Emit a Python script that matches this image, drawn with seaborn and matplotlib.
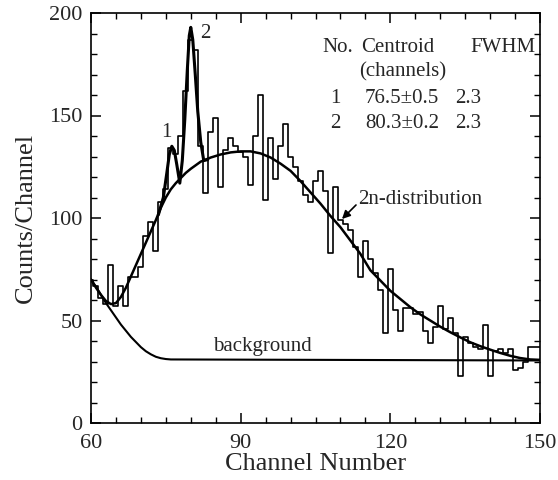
import numpy as np
import pandas as pd
import matplotlib
matplotlib.use("Agg")
import matplotlib.pyplot as plt
import seaborn as sns
from matplotlib.ticker import MultipleLocator

# ---- data ----
channels = list(range(60, 151))
counts = [70, 67, 61, 58, 77, 57, 67, 57, 71, 71,
          76, 91, 98, 84, 108, 114, 134, 131, 140, 162,
          187, 182, 135, 112, 142, 149, 115, 133, 139, 135,
          132, 130, 116, 140, 160, 109, 139, 119, 135, 146,
          130, 125, 118, 111, 108, 118, 123, 113, 83, 115,
          99, 97, 94, 86, 71, 89, 80, 73, 65, 44,
          75, 55, 45, 56, 56, 53, 54, 45, 39, 47,
          57, 46, 51, 44, 23, 42, 39, 37, 36, 48,
          23, 35, 36, 34, 36, 26, 27, 30, 37, 37, 37]

smooth_ch = [60, 61, 62, 63, 64, 65, 66, 67, 68, 69, 70, 71, 72, 73, 74, 75, 76, 77,
             78, 79, 80, 82, 84, 86, 88, 90, 92, 94, 96, 98, 100, 102, 104, 106,
             108, 110, 112, 114, 116, 118, 120, 122, 124, 126, 128, 130, 132, 134,
             136, 138, 140, 142, 144, 146, 148, 150]
smooth_val = [70, 66, 62.5, 59.5, 58, 58.5, 61.5, 66, 71.5, 77, 82.5, 88, 93.5, 99, 105, 110, 114, 117,
              119.5, 122, 124, 127.5, 129.5, 131, 132, 132.5, 132.5, 131.5, 129.5, 126.5, 123, 118, 112.5, 107,
              101, 95.5, 89, 82.5, 74.5, 69.5, 64.5, 60.5, 56.5, 53, 50, 47, 44.3, 41.8,
              39.4, 37.5, 35.8, 34.2, 32.8, 31.7, 31, 30.8]

bg_ch = [60, 61, 62, 63, 64, 65, 66, 67, 68, 69, 70, 71, 72, 73, 74, 75, 76, 150]
bg_val = [70, 66.5, 62.5, 58.5, 55, 51.5, 48, 45, 42, 39.5, 37, 35, 33.5, 32.3, 31.6, 31.2, 31, 30.5]

peak_ch = [73.5, 74.5, 75.2, 75.7, 76.2, 76.7, 77.2, 77.8, 78.3, 78.8, 79.3, 79.7, 80.0,
           80.4, 80.9, 81.4, 82.0, 82.6, 83.4]
peak_val = [101.5, 110, 122, 131, 135, 133, 126, 117, 128, 148, 172, 189, 193,
            187, 170, 152, 137, 128, 128.5]

table_rows = [["No.", "Centroid", "FWHM"],
              ["", "(channels)", ""],
              ["1", "76.5\u00b10.5", "2.3"],
              ["2", "80.3\u00b10.2", "2.3"]]

# ---- style ----
sns.set_theme(style="ticks")
plt.rcParams['font.family'] = ['Liberation Serif', 'DejaVu Serif']
plt.rcParams['axes.linewidth'] = 1.2

W, H = 558, 480
fig = plt.figure(figsize=(W / 100, H / 100), dpi=100)
L, R, T, B = 91, 540, 13, 423
ax = fig.add_axes([L / W, (H - B) / H, (R - L) / W, (B - T) / H])
ax.set_facecolor('white')
fig.patch.set_facecolor('white')

hist_df = pd.DataFrame({'channel': channels, 'counts': counts})
smooth_df = pd.DataFrame({'channel': smooth_ch, 'counts': smooth_val})
bg_df = pd.DataFrame({'channel': bg_ch, 'counts': bg_val})
peak_df = pd.DataFrame({'channel': peak_ch, 'counts': peak_val})

sns.lineplot(data=hist_df, x='channel', y='counts', drawstyle='steps-mid',
             color='black', lw=1.2, ax=ax, estimator=None, sort=False, legend=False)
sns.lineplot(data=bg_df, x='channel', y='counts', color='black', lw=1.5,
             ax=ax, estimator=None, sort=False, legend=False)
sns.lineplot(data=smooth_df, x='channel', y='counts', color='black', lw=1.8,
             ax=ax, estimator=None, sort=False, legend=False)
sns.lineplot(data=peak_df, x='channel', y='counts', color='black', lw=2.2,
             ax=ax, estimator=None, sort=False, legend=False)

ax.set_xlim(60, 150)
ax.set_ylim(0, 200)
ax.xaxis.set_major_locator(MultipleLocator(30))
ax.xaxis.set_minor_locator(MultipleLocator(5))
ax.yaxis.set_major_locator(MultipleLocator(50))
ax.yaxis.set_minor_locator(MultipleLocator(10))
ax.tick_params(which='both', direction='in', top=True, right=True, color='black')
ax.tick_params(which='major', length=7, width=1.1, labelsize=16)
ax.tick_params(axis='y', which='major', pad=6)
ax.tick_params(axis='x', which='major', pad=8)
ax.tick_params(which='minor', length=4.5, width=1.0)
for s in ax.spines.values():
    s.set_color('black')

ax.set_xlabel("Channel Number", fontsize=19, labelpad=0)
ax.set_ylabel("Counts/Channel", fontsize=19, labelpad=9)


def px2data(px, py):
    return 60 + (px - L) / (R - L) * 90, (B - py) / (B - T) * 200


fs = 15
# table
col_x = [[322, 361, 470], [None, 359, None], [330, 365, 455], [330, 365, 455]]
row_y = [47, 72, 98, 123]
for r, row in enumerate(table_rows):
    for c, txt in enumerate(row):
        if txt:
            x, y = px2data(col_x[r][c], row_y[r])
            ax.text(x, y, txt, fontsize=fs, ha='left', va='center')

# peak labels
x, y = px2data(166, 132)
ax.text(x, y, "1", fontsize=fs, ha='center', va='center')
x, y = px2data(205, 33)
ax.text(x, y, "2", fontsize=fs, ha='center', va='center')

# background label
x, y = px2data(213, 347)
ax.text(x, y, "background", fontsize=fs, ha='left', va='center')

# 2n-distribution label with arrow
tx, ty = px2data(358, 199)
ax.text(tx, ty, "2n-distribution", fontsize=fs, ha='left', va='center')
hx, hy = px2data(342, 219)
sx, sy = px2data(356, 205)
ax.annotate("", xy=(hx, hy), xytext=(sx, sy),
            arrowprops=dict(arrowstyle='-|>', color='black', lw=1.2,
                            mutation_scale=12, shrinkA=0, shrinkB=0))

fig.savefig("out.png", dpi=100, facecolor='white')
